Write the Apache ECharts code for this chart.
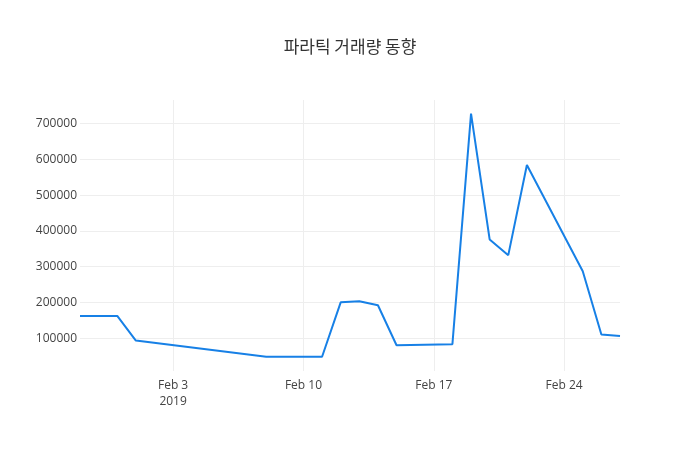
<!DOCTYPE html>
<html>
<head>
<meta charset="utf-8">
<script src="https://cdn.jsdelivr.net/npm/echarts@6/dist/echarts.min.js"></script>
<style>
  html, body { margin: 0; padding: 0; background: #fff; }
  #main { width: 700px; height: 450px; }
</style>
</head>
<body>
<div id="main"></div>
<script>
// 날짜별 거래량
var dates = ['2019-01-29', '2019-01-31', '2019-02-01', '2019-02-08', '2019-02-11',
  '2019-02-12', '2019-02-13', '2019-02-14', '2019-02-15', '2019-02-18',
  '2019-02-19', '2019-02-20', '2019-02-21', '2019-02-22', '2019-02-25',
  '2019-02-26', '2019-02-27']
var volumes = [162000, 162000, 93000, 48000, 48000,
  200000, 203000, 192000, 80000, 83000,
  728000, 376000, 332000, 584000, 287000,
  110000, 106000]
var xTickDates = ['2019-02-03', '2019-02-10', '2019-02-17', '2019-02-24']
var xTickLabels = ['Feb 3\n2019', 'Feb 10', 'Feb 17', 'Feb 24']
var yTicks = [100000, 200000, 300000, 400000, 500000, 600000, 700000]

// 2019-01-01 부터 며칠째인지
function dayNum(s) {
  var p = s.split('-')
  return (Date.UTC(+p[0], +p[1] - 1, +p[2]) - Date.UTC(2019, 0, 1)) / 86400000
}

var xTicks = xTickDates.map(dayNum)
var seriesData = dates.map(function (d, i) { return [dayNum(d), volumes[i]] })

var chart = echarts.init(document.getElementById('main'))
chart.setOption({
  animation: false,
  title: {
    text: '파라틱 거래량 동향',
    left: 'center',
    top: 33,
    textStyle: {
      fontFamily: 'Noto Sans CJK KR',
      fontSize: 17,
      fontWeight: 'normal',
      color: '#333'
    }
  },
  grid: {
    left: 80,
    right: 80,
    top: 100,
    bottom: 79
  },
  xAxis: {
    type: 'value',
    min: dayNum('2019-01-29'),
    max: dayNum('2019-02-27'),
    axisLine: { show: false },
    axisTick: { show: false, customValues: xTicks },
    splitLine: { show: true, lineStyle: { color: '#eee', width: 1 } },
    axisLabel: {
      customValues: xTicks,
      margin: 7,
      color: '#444',
      fontFamily: 'Open Sans',
      fontSize: 12,
      lineHeight: 16,
      formatter: function (v) {
        var i = xTicks.indexOf(v)
        return i >= 0 ? xTickLabels[i] : ''
      }
    }
  },
  yAxis: {
    type: 'value',
    min: 8000,
    max: 766000,
    axisLine: { show: false },
    axisTick: { show: false, customValues: yTicks },
    splitLine: { show: true, lineStyle: { color: '#eee', width: 1 } },
    axisLabel: {
      customValues: yTicks,
      margin: 3,
      color: '#444',
      fontFamily: 'Open Sans',
      fontSize: 12,
      formatter: function (v) { return String(v) }
    }
  },
  series: [{
    type: 'line',
    data: seriesData,
    showSymbol: false,
    lineStyle: { color: '#1780e6', width: 2 },
    itemStyle: { color: '#1780e6' }
  }]
})
</script>
</body>
</html>
